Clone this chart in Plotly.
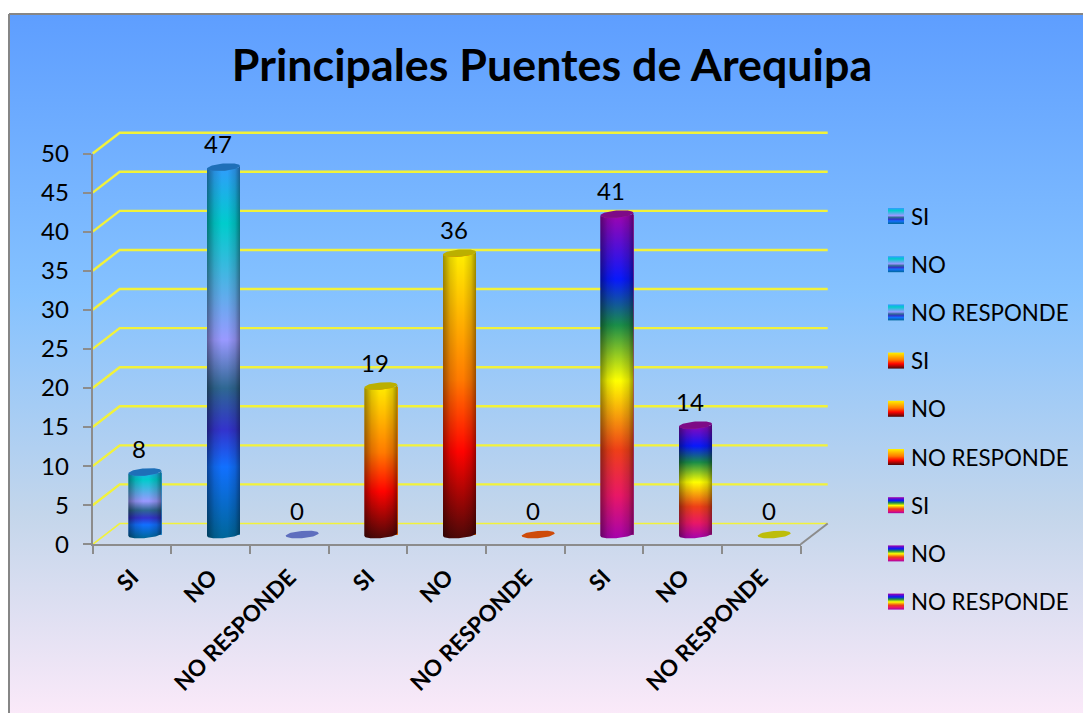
import numpy as np
import plotly.graph_objects as go

TITLE = "Principales Puentes de Arequipa"
categories = ["SI", "NO", "NO RESPONDE", "SI", "NO", "NO RESPONDE", "SI", "NO", "NO RESPONDE"]
values = [8, 47, 0, 19, 36, 0, 41, 14, 0]
y_ticks = list(range(0, 55, 5))

PEACOCK = [[0, "#3399FF"], [.16, "#00CCCC"], [.47, "#9999FF"], [.60, "#2E6792"],
           [.71, "#3333CC"], [.81, "#1170FF"], [1, "#006699"]]
FIRE = [[0, "#FFF200"], [.45, "#FF7A00"], [.70, "#FF0300"], [1, "#4D0808"]]
RAINBOW = [[0, "#A603AB"], [.21, "#0819FB"], [.35, "#1A8D48"], [.52, "#FFFF00"],
           [.73, "#EE3F17"], [.87, "#E81766"], [1, "#A603AB"]]
DAYBREAK = [[0, "#5E9EFF"], [.39, "#85C2FF"], [.70, "#C4D6EB"], [1, "#FFEBFA"]]
SCALES = [PEACOCK] * 3 + [FIRE] * 3 + [RAINBOW] * 3
CAP_COLORS = ["#1E6FB8"] * 2 + ["#5E6EBE"] + ["#BBAF00"] * 2 + ["#CE4B0A"] + ["#7E0A86"] * 2 + ["#BDBD0A"]
BAR_COLORS = ["#2E8FD0"] * 3 + ["#FF7A00"] * 3 + ["#A03090"] * 3

W, H = 1083, 713
X0, X1, Y0, Y50 = 92.7, 800.7, 544.3, 153.5
PX_X = (X1 - X0) / 9
PX_Y = (Y0 - Y50) / 50
DEPTH_X, DEPTH_Y = 27, 20.8              # depth of the 3-D box, pixels
R, B, TILT = 16.5 / PX_X, 3.6 / PX_Y, 1.3 / PX_Y
OFF_X, BASE = 0.163, 1.25
FONT = "Lato, Carlito, Calibri, sans-serif"
GRID = "#F2F23A"
GREY = "#8C8C8C"


def flip(py):
    """Screen pixel row -> coordinate on the full-page backdrop axis."""
    return H - np.asarray(py, dtype=float)


fig = go.Figure()

# page background and frame, in pixel coordinates on their own axes
fig.add_trace(go.Scatter(
    x=[9, 1100, 1100, 9, 9], y=flip([14, 14, 740, 740, 14]), mode="lines", fill="toself",
    line=dict(color="#868686", width=2),
    fillgradient=dict(type="vertical", colorscale=DAYBREAK, start=float(flip(15)), stop=float(flip(730))),
    xaxis="x", yaxis="y", showlegend=False, hoverinfo="skip"))

# 3-D wall grid lines and floor edge, placed from the tick values
for v in y_ticks:
    py = Y0 - v * PX_Y
    fig.add_trace(go.Scatter(
        x=[X0, X0 + DEPTH_X, X1 + DEPTH_X], y=flip([py, py - DEPTH_Y, py - DEPTH_Y]), mode="lines",
        line=dict(color=GRID, width=2.4 if v else 1.6),
        xaxis="x", yaxis="y", showlegend=False, hoverinfo="skip"))
fig.add_trace(go.Scatter(
    x=[X1, X1 + DEPTH_X], y=flip([Y0, Y0 - DEPTH_Y]), mode="lines", line=dict(color=GREY, width=2),
    xaxis="x", yaxis="y", showlegend=False, hoverinfo="skip"))

# legend swatches and names
for i, name in enumerate(categories):
    yc = 216 + 48.2 * i
    fig.add_trace(go.Scatter(
        x=[888, 904, 904, 888, 888], y=flip([yc - 8, yc - 8, yc + 8, yc + 8, yc - 8]),
        mode="lines", line=dict(width=0), fill="toself",
        fillgradient=dict(type="vertical", colorscale=SCALES[i], start=float(flip(yc - 8)), stop=float(flip(yc + 8))),
        xaxis="x", yaxis="y", showlegend=False, hoverinfo="skip"))
    fig.add_annotation(x=909, y=float(flip(yc)), xref="x", yref="y", text=name, showarrow=False,
                       xanchor="left", yanchor="middle", font=dict(family=FONT, size=22.3, color="#000"))

# the bars themselves, on the value axes
xpos = np.arange(len(values))
fig.add_trace(go.Bar(x=xpos + OFF_X, y=values, base=BASE, width=2 * R, marker=dict(color=BAR_COLORS, line_width=0),
                     xaxis="x2", yaxis="y2", showlegend=False, hoverinfo="skip"))


def ellipse(cx, cy, t):
    return cx + R * np.cos(t), cy + B * np.sin(t) + TILT * np.cos(t)


for i, v in enumerate(values):
    cx, y_b, y_t = i + OFF_X, BASE, BASE + v
    if v > 0:
        tb = np.linspace(np.pi, 2 * np.pi, 40)
        xb, yb = ellipse(cx, y_b, tb)
        tt = np.linspace(2 * np.pi, np.pi, 40)
        xt, yt = ellipse(cx, y_t, tt)
        px = np.r_[xb, xt, xb[0]]
        py = np.r_[yb, yt, yb[0]]
        # colour stops run from the top of the cylinder to its foot
        fig.add_trace(go.Scatter(
            x=px, y=py, mode="lines", line=dict(width=0), fill="toself",
            fillgradient=dict(type="vertical", colorscale=SCALES[i], start=y_t + B, stop=y_b - B),
            xaxis="x2", yaxis="y2", showlegend=False, hoverinfo="skip"))
        fig.add_trace(go.Scatter(
            x=px, y=py, mode="lines", line=dict(width=0), fill="toself",
            fillgradient=dict(type="horizontal", start=cx - R, stop=cx + R, colorscale=[
                [0, "rgba(0,0,0,0.40)"], [.22, "rgba(0,0,0,0.12)"], [.45, "rgba(0,0,0,0)"],
                [.62, "rgba(0,0,0,0)"], [.85, "rgba(0,0,0,0.14)"], [1, "rgba(0,0,0,0.40)"]]),
            xaxis="x2", yaxis="y2", showlegend=False, hoverinfo="skip"))
    ex, ey = ellipse(cx, y_t, np.linspace(0, 2 * np.pi, 60))
    fig.add_trace(go.Scatter(
        x=ex, y=ey, mode="lines", line=dict(width=0), fill="toself", fillcolor=CAP_COLORS[i],
        xaxis="x2", yaxis="y2", showlegend=False, hoverinfo="skip"))

# value labels: anchored on the top of each bar, lifted by a pixel shift
for i, v in enumerate(values):
    fig.add_annotation(x=i + OFF_X - 0.07, y=v + BASE, xref="x2", yref="y2", text=str(v), showarrow=False,
                       xanchor="center", yanchor="middle", yshift=24,
                       font=dict(family=FONT, size=24, color="#000"))

fig.update_layout(
    width=W, height=H, autosize=False, margin=dict(l=0, r=0, t=0, b=0, pad=0, autoexpand=False),
    paper_bgcolor="#FFFFFF", plot_bgcolor="rgba(0,0,0,0)", showlegend=False, bargap=0,
    title=dict(text="<b>%s</b>" % TITLE, x=552 / W, xref="paper", xanchor="center",
               y=1 - 65 / H, yref="paper", yanchor="middle",
               font=dict(family=FONT, size=44.8, color="#000")),
    xaxis=dict(domain=[0, 1], range=[0, W], visible=False, fixedrange=True, automargin=False),
    yaxis=dict(domain=[0, 1], range=[0, H], visible=False, fixedrange=True, automargin=False),
    xaxis2=dict(domain=[X0 / W, X1 / W], range=[-0.5, 8.5], anchor="y2", automargin=False,
                tickmode="array", tickvals=list(xpos), ticktext=categories, ticks="",
                ticklabelstandoff=9,
                tickangle=-45, tickfont=dict(family=FONT, size=22.5, color="#000", weight="bold"),
                showgrid=False, zeroline=False, showline=True, linecolor=GREY, linewidth=2,
                minor=dict(tickmode="array", tickvals=[i - 0.5 for i in range(10)], ticks="outside",
                           ticklen=8, tickwidth=2, tickcolor=GREY, showgrid=False)),
    yaxis2=dict(domain=[1 - Y0 / H, 1 - Y50 / H], range=[0, 50], anchor="x2", automargin=False,
                tickmode="array", tickvals=y_ticks, ticks="outside", ticklen=8, tickwidth=2, tickcolor=GREY,
                ticklabelstandoff=9, tickfont=dict(family=FONT, size=24, color="#000"),
                showgrid=False, zeroline=False, showline=True, linecolor=GREY, linewidth=2),
)

fig.write_html("out.html", config=dict(displayModeBar=False),
               post_script="document.body.style.margin='0';document.body.style.overflow='hidden';")
